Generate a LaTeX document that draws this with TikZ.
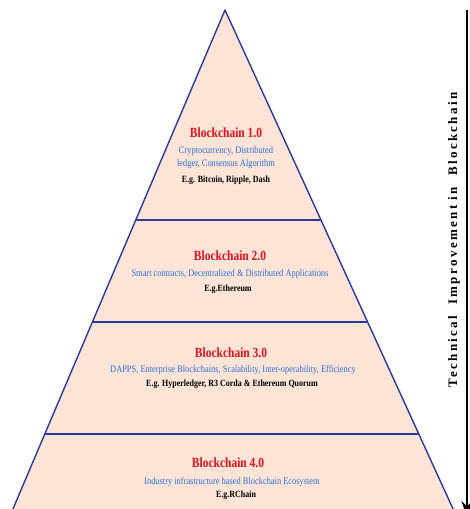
\documentclass[tikz,border=0pt]{standalone}
\usepackage{fontspec}
\setmainfont{Liberation Serif}
\newfontfamily\condfont[FakeStretch=0.84]{Liberation Serif}
\newfontfamily\headfont[FakeStretch=0.82]{Liberation Serif}
\newfontfamily\axisfont[LetterSpace=18]{Liberation Serif}
\usetikzlibrary{arrows.meta}
\definecolor{tierfill}{HTML}{FCE4D6}
\definecolor{tieredge}{HTML}{2B3A98}
\definecolor{headred}{HTML}{E3101E}
\definecolor{featblue}{HTML}{2F6ED6}
\begin{document}
\begin{tikzpicture}[x=1pt,y=-1pt,
  tierline/.style={draw=tieredge,line width=1.4pt},
  headtext/.style={font=\headfont\bfseries\fontsize{14}{14}\selectfont,text=headred,inner sep=0pt},
  feattext/.style={font=\condfont\fontsize{10}{10}\selectfont,text=featblue,inner sep=0pt},
  exampletext/.style={font=\condfont\bfseries\fontsize{9.5}{9.5}\selectfont,text=black,inner sep=0pt},
  axislabel/.style={font=\axisfont\bfseries\fontsize{13}{13}\selectfont,rotate=90,inner sep=0pt}]
\useasboundingbox (0,0) rectangle (470,509);
\clip (0,0) rectangle (470,509);
% pyramid corners and tier boundaries
\coordinate (apex) at (225,10);
\coordinate (baseL) at (8.25,520);
\coordinate (baseR) at (458.1,520);
\coordinate (t1L) at (135.8,220);
\coordinate (t1R) at (321,220);
\coordinate (t2L) at (92.4,322);
\coordinate (t2R) at (367.6,322);
\coordinate (t3L) at (44.8,434);
\coordinate (t3R) at (418.8,434);
\fill[tierfill] (apex) -- (baseR) -- (baseL) -- cycle;
\draw[tierline,line join=round] (baseL) -- (apex) -- (baseR);
\draw[tierline] (t1L) -- (t1R);
\draw[tierline] (t2L) -- (t2R);
\draw[tierline] (t3L) -- (t3R);
% tier 1
\node[headtext] (h1) at (226,133) {Blockchain 1.0};
\node[feattext] (f1a) at (226,151) {Cryptocurrency, Distributed};
\node[feattext] (f1b) at (226,164) {ledger, Consensus Algorithm};
\node[exampletext] (e1) at (226,180) {E.g. Bitcoin, Ripple, Dash};
% tier 2
\node[headtext] (h2) at (230,256) {Blockchain 2.0};
\node[feattext] (f2) at (230,274) {Smart contracts, Decentralized \& Distributed Applications};
\node[exampletext] (e2) at (228,289) {E.g.Ethereum};
% tier 3
\node[headtext] (h3) at (231,353) {Blockchain 3.0};
\node[feattext] (f3) at (233,370) {DAPPS, Enterprise Blockchains,\ Scalability,\ Inter-operability,\ Efficiency};
\node[exampletext] (e3) at (232,384) {E.g. Hyperledger, R3 Corda \& Ethereum Quorum};
% tier 4
\node[headtext] (h4) at (228,463) {Blockchain 4.0};
\node[feattext] (f4) at (232,482) {Industry infrastructure based Blockchain Ecosystem};
\node[exampletext] (e4) at (236,495) {E.g.RChain};
% growth axis
\coordinate (axtop) at (467,10);
\coordinate (axbot) at (467,517);
\draw[line width=2pt,-{Stealth[length=16pt,width=11pt]}] (axtop) -- (axbot);
\node[axislabel] (axl) at (454,240) {Technical\ \ Improvement in\ \ Blockchain};
\end{tikzpicture}
\end{document}
